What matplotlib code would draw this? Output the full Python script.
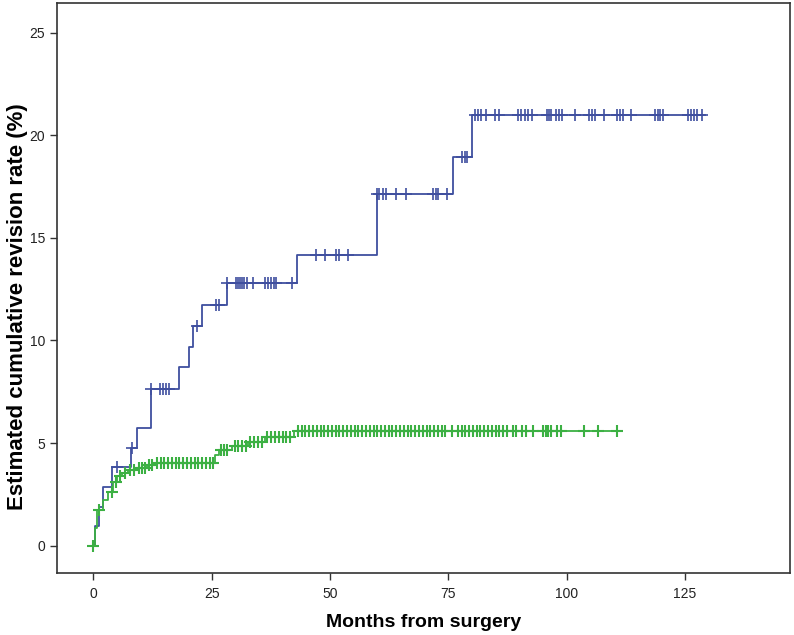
# Kaplan-Meier style cumulative revision rate, two groups
import numpy as np
import matplotlib
matplotlib.use('Agg')
import matplotlib.pyplot as plt

# Group 1 (blue): step times (months) and cumulative revision rate (%)
blue_t = [0, 0.4, 1.1, 2.1, 4.0, 8.0, 9.2, 12.1, 18.2, 20.3, 21.1, 23.0,
          28.2, 43.0, 59.9, 75.9, 80.0]
blue_y = [0, 0.95, 1.9, 2.86, 3.81, 4.76, 5.71, 7.62, 8.7, 9.7, 10.7, 11.75,
          12.8, 14.15, 17.15, 18.95, 21.0]
blue_end = 129.2
blue_cens = [5.1, 8.1, 12.2, 14.1, 14.7, 15.3, 15.9, 22.0, 25.9, 26.5,
             28.2, 30.2, 30.6, 31.0, 31.4, 31.9, 32.4, 33.8, 36.3, 37.0, 37.5,
             38.2, 38.7, 41.9, 47.1, 49.0, 51.3, 52.0, 53.9,
             60.0, 60.4, 61.1, 61.8, 64.0, 66.1, 71.8, 72.4, 72.9, 74.8,
             77.8, 78.5, 79.0,
             80.6, 81.3, 82.0, 82.9, 84.9, 85.8, 89.8, 90.3, 91.2, 91.9, 92.6,
             95.8, 96.3, 96.8, 97.7, 98.4, 99.0, 101.8, 104.7, 105.4, 106.0,
             108.0, 110.7, 111.3, 112.0, 113.5, 118.7, 119.2, 119.7, 120.3,
             125.7, 126.3, 126.9, 127.5, 128.7]

# Group 2 (green)
green_t = [0, 0.3, 0.8, 2.1, 3.2, 4.2, 5.1, 6.0, 7.4, 9.2, 11.3, 13.0,
           25.7, 26.6, 29.4, 32.6, 36.2, 42.3]
green_y = [0, 0.87, 1.73, 2.2, 2.6, 3.1, 3.39, 3.55, 3.68, 3.8, 3.93, 4.04,
           4.4, 4.66, 4.84, 5.06, 5.3, 5.57]
green_end = 111.6
green_cens = [0.0, 1.1, 3.9, 4.8, 5.6, 6.7, 7.8, 8.6, 9.6, 10.2, 11.0, 11.8,
              12.4, 13.4, 14.2, 15.0, 15.8, 16.6, 17.4, 18.2, 19.0, 19.8, 20.6,
              21.4, 22.2, 23.0, 23.8, 24.6, 25.3,
              26.9, 27.6, 28.3, 29.9, 30.6, 31.4, 32.2, 33.2, 34.0, 34.8, 35.6,
              36.8, 37.6, 38.4, 39.2, 40.0, 40.8, 41.6,
              43.2, 44.0, 44.8, 45.6, 46.4, 47.2, 48.0, 48.8, 49.6, 50.4, 51.2,
              52.0, 52.8, 53.6, 54.4, 55.2, 56.0, 56.8, 57.6, 58.4, 59.2, 60.0,
              60.8, 61.6, 62.4, 63.2, 64.0, 64.8, 65.6, 66.4, 67.2, 68.0, 68.8,
              69.6, 70.4, 71.2, 72.0, 72.8, 73.6, 74.4, 75.8, 77.0, 77.8, 78.6,
              79.4, 80.2, 81.0, 81.8, 82.6, 83.4, 84.2, 85.0, 85.8, 86.6, 87.4,
              88.6, 89.4, 90.6, 91.4, 92.8,
              95.1, 95.6, 96.1, 96.8, 97.9, 98.9, 103.7, 106.7, 110.7]

x_ticks = [0, 25, 50, 75, 100, 125]
y_ticks = [0, 5, 10, 15, 20, 25]

blue_c = '#3f4f9f'
green_c = '#3cb043'

plt.rcParams['font.family'] = ['Liberation Sans', 'DejaVu Sans']

fig = plt.figure(figsize=(7.94, 6.35), dpi=100)
ax = fig.add_axes([0.0718, 0.0976, 0.9232, 0.8977])


def draw_curve(t, y, end, cens, color, mew):
    # step line up to the last follow-up, plus censor ticks
    tt = list(t) + [end]
    yy = list(y) + [y[-1]]
    ax.step(tt, yy, where='post', color=color, lw=1.3)
    idx = np.searchsorted(np.array(t), np.array(cens), side='right') - 1
    cy = np.array(y)[idx]
    ax.plot(cens, cy, linestyle='none', marker='+', markersize=8.5,
            markeredgewidth=mew, color=color)


draw_curve(blue_t, blue_y, blue_end, blue_cens, blue_c, 1.2)
draw_curve(green_t, green_y, green_end, green_cens, green_c, 1.5)

ax.set_xlim(-7.67, 147.2)
ax.set_ylim(-1.34, 26.46)
ax.set_xticks(x_ticks)
ax.set_yticks(y_ticks)
ax.tick_params(labelsize=10, length=5, width=1, color='#333333',
               labelcolor='#222222')
ax.tick_params(axis='x', pad=5)
for s in ax.spines.values():
    s.set_color('#333333')
    s.set_linewidth(1.2)

ax.set_xlabel('Months from surgery', fontsize=14, fontweight='bold',
              va='center')
ax.xaxis.set_label_coords(0.5, -0.086)
ax.set_ylabel('Estimated cumulative revision rate (%)', fontsize=16,
              fontweight='bold', va='center')
ax.yaxis.set_label_coords(-0.054, 0.467)

fig.savefig('out.png', dpi=100)
